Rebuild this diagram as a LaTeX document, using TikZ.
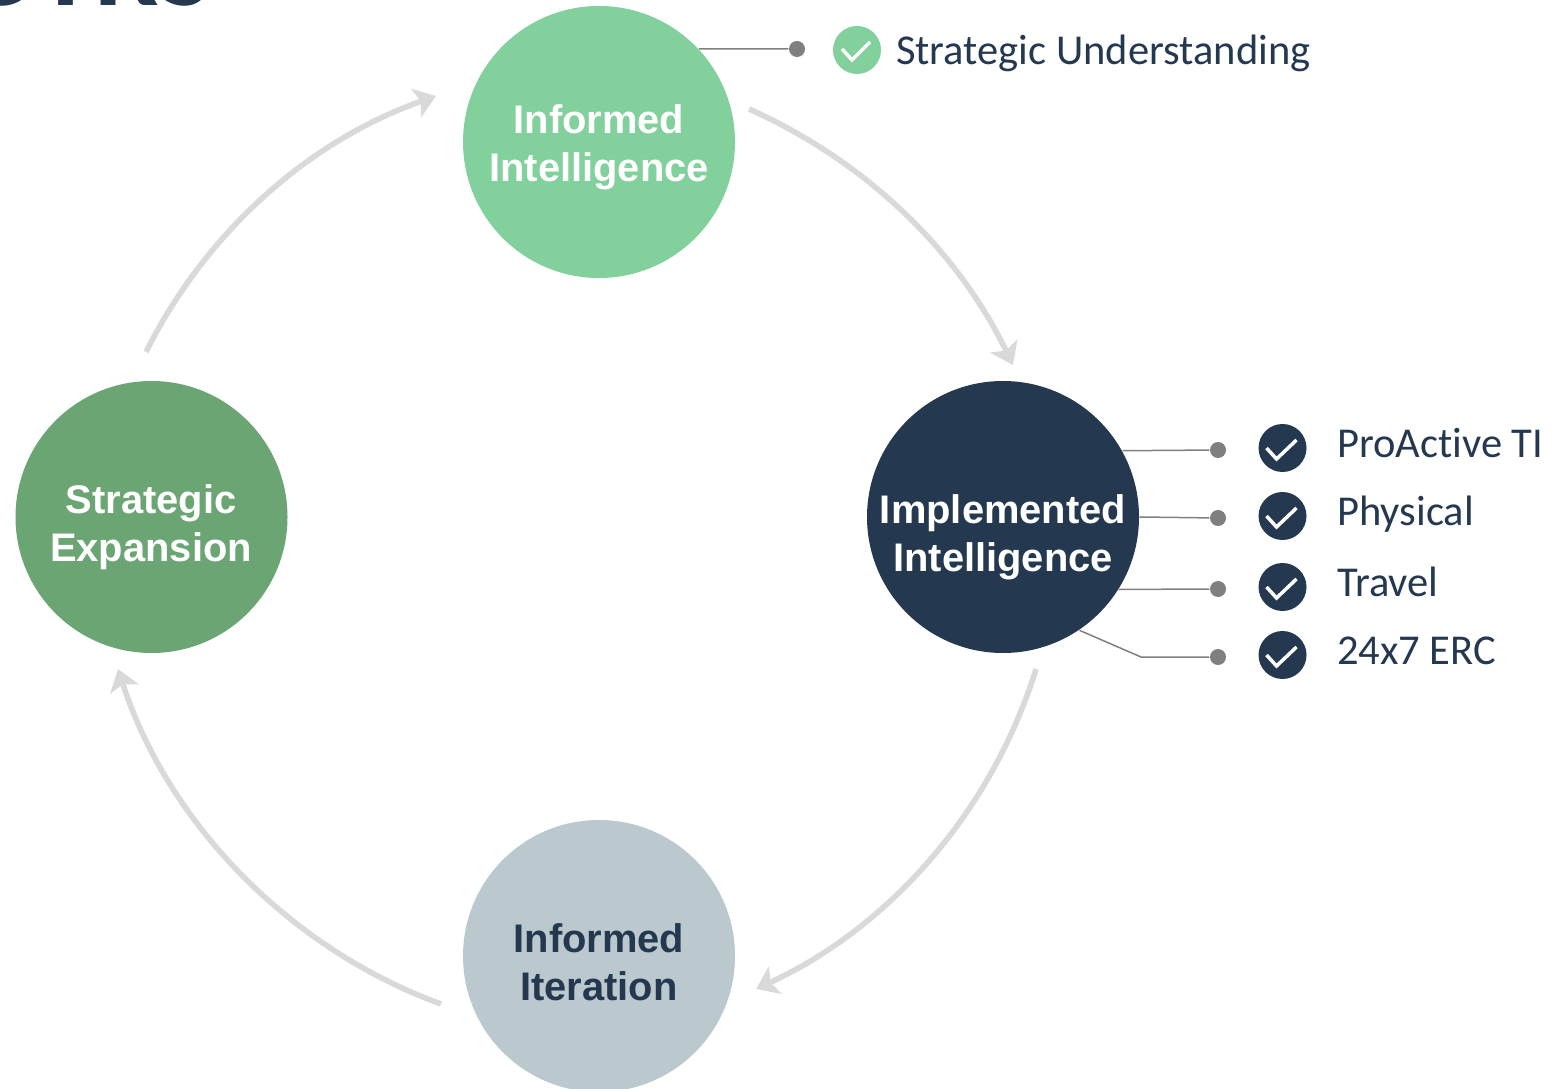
\documentclass[tikz,border=0pt]{standalone}
\usepackage{fontspec}
\setmainfont{Liberation Sans}
\newfontfamily\labelfont[Ligatures=NoCommon]{Carlito}
\usetikzlibrary{arrows.meta}

\definecolor{navy}{HTML}{243850}
\definecolor{lightgreen}{HTML}{82D09C}
\definecolor{darkgreen}{HTML}{6AA573}
\definecolor{paleblue}{HTML}{BBC8CD}
\definecolor{arcgray}{HTML}{D9D9D9}
\definecolor{leadgray}{HTML}{7F7F7F}

\tikzset{
	phase/.style={circle, minimum size=2.72cm, inner sep=0pt},
	phasetext/.style={align=center, inner sep=0pt, text=white, font=\bfseries\fontsize{11.35}{13.66}\selectfont},
	cycle/.style={line width=0.056cm, draw=arcgray, looseness=0.89, -{Stealth[length=0.21cm, width=0.3cm, inset=0.05cm]}},
	leader/.style={draw=leadgray, line width=0.015cm},
	leaddot/.style={circle, fill=leadgray, minimum size=0.16cm, inner sep=0pt},
	tickicon/.style={circle, minimum size=0.48cm, inner sep=0pt},
	tick/.style={draw=white, line width=0.035cm},
	itemtext/.style={anchor=base west, inner sep=0pt, text=navy, font=\labelfont\fontsize{12.1}{14}\selectfont}
}

\begin{document}
\begin{tikzpicture}
	\useasboundingbox (0, 0) rectangle (15.57, 10.88);
	\begin{scope}
		\clip (0, 0) rectangle (15.57, 10.88);
		% Titelrest oben
		\node[anchor=base west, inner sep=0pt, text=navy] (title) at (-0.38, 10.82)
			{\labelfont\bfseries\fontsize{32.7}{36}\selectfont OTRS};
		% Kreise
		\node[phase, fill=lightgreen] (informed) at (5.99, 9.46) {};
		\node[phase, fill=navy] (implemented) at (10.03, 5.71) {};
		\node[phase, fill=paleblue] (iteration) at (5.99, 1.32) {};
		\node[phase, fill=darkgreen] (expansion) at (1.515, 5.71) {};
	\end{scope}
	\node[phasetext] (informedtext) at (5.99, 9.41) {Informed\\Intelligence};
	\node[phasetext] (implementedtext) at (10.03, 5.51) {Implemented\\Intelligence};
	\node[phasetext, text=navy] (iterationtext) at (5.99, 1.26) {Informed\\Iteration};
	\node[phasetext] (expansiontext) at (1.51, 5.61) {Strategic\\Expansion};

	% Pfeile
	\coordinate (a1) at (7.49, 9.79);
	\coordinate (a2) at (10.13, 7.23);
	\coordinate (b1) at (10.36, 4.19);
	\coordinate (b2) at (7.56, 0.99);
	\coordinate (c1) at (4.41, 0.84);
	\coordinate (c2) at (1.18, 4.19);
	\coordinate (d1) at (1.46, 7.36);
	\coordinate (d2) at (4.36, 9.92);
	\draw[cycle] (a1) to[bend left=20] (a2);
	\draw[cycle] (b1) to[bend left=24] (b2);
	\draw[cycle] (c1) to[bend left=26] (c2);
	\draw[cycle] (d1) to[bend left=22] (d2);

	% Punkte und Haken
	\node[leaddot] (dot0) at (7.97, 10.39) {};
	\draw[leader] (informed.43.1) -- (dot0);
	\node[tickicon, fill=lightgreen] (icon0) at (8.57, 10.38) {};
	\draw[tick] ([shift={(-0.15, 0.01)}]icon0.center) -- ++(0.10, -0.11) -- ++(0.18, 0.18);
	\node[itemtext] (item0) at (8.955, 10.23) {Strategic Understanding};

	\foreach \n/\a/\dy/\iy/\ty/\txt in {
		1/29.5/6.38/6.40/6.30/ProActive TI,
		2/-0.4/5.70/5.72/5.625/Physical,
		3/-32/4.99/5.01/4.92/Travel} {
		\node[leaddot] (dot\n) at (12.18, \dy) {};
		\draw[leader] (implemented.\a) -- (dot\n);
		\node[tickicon, fill=navy] (icon\n) at (12.825, \iy) {};
		\draw[tick] ([shift={(-0.16, 0)}]icon\n.center) -- ++(0.10, -0.11) -- ++(0.20, 0.19);
		\node[itemtext] (item\n) at (13.365, \ty) {\txt};
	}

	\node[leaddot] (dot4) at (12.18, 4.31) {};
	\coordinate (elbow) at (11.41, 4.31);
	\draw[leader] (implemented.-56.4) -- (elbow) -- (dot4);
	\node[tickicon, fill=navy] (icon4) at (12.825, 4.33) {};
	\draw[tick] ([shift={(-0.16, 0)}]icon4.center) -- ++(0.10, -0.11) -- ++(0.20, 0.19);
	\node[itemtext] (item4) at (13.365, 4.24) {24x7 ERC};
\end{tikzpicture}
\end{document}
